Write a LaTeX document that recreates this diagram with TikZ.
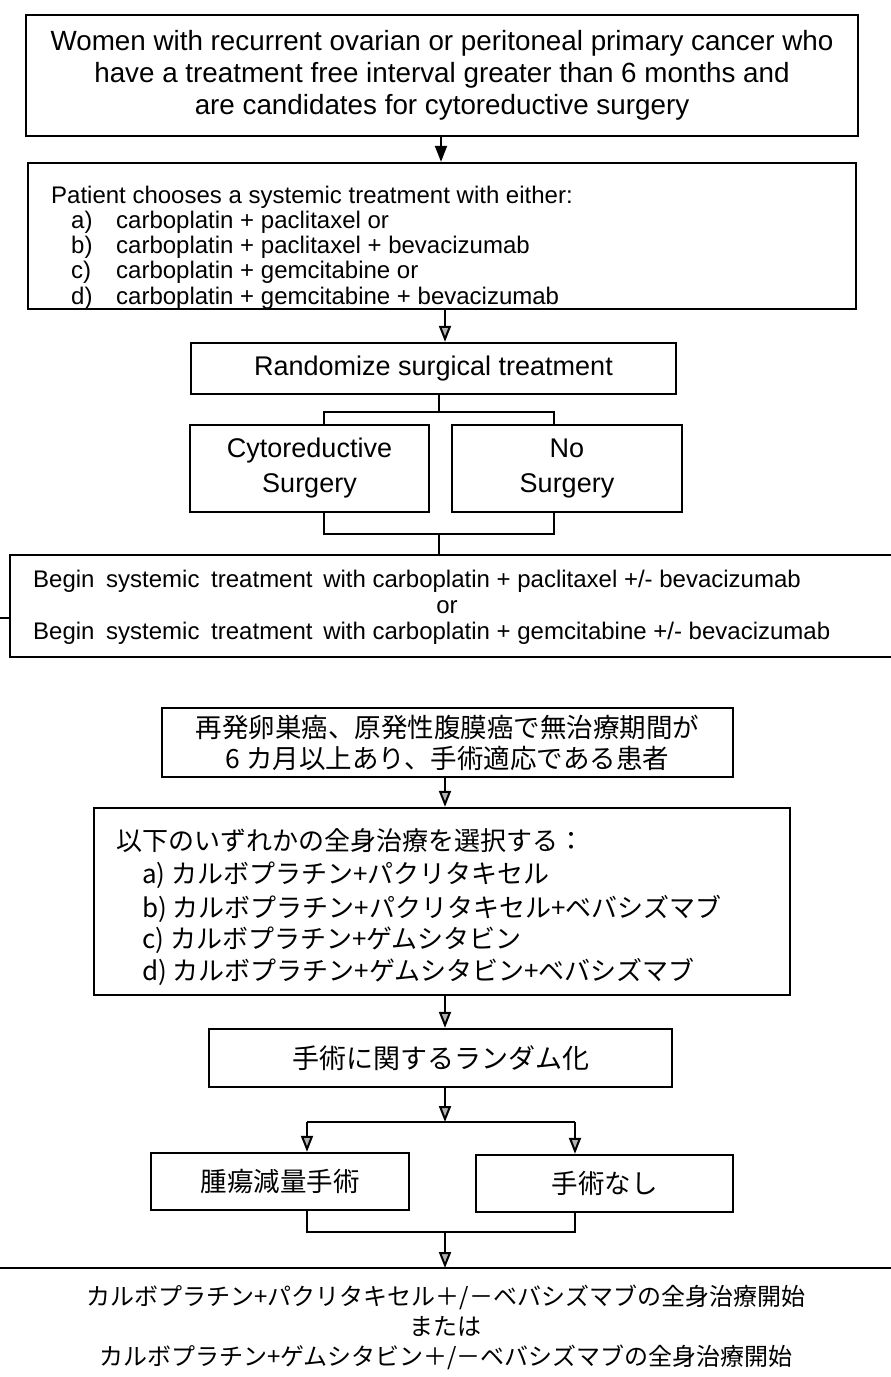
\documentclass[tikz,border=0pt]{standalone}
\usepackage{fontspec}
\setmainfont{Liberation Sans}
\newfontfamily\jp{Noto Sans CJK JP}
\usetikzlibrary{arrows.meta}
\begin{document}
\begin{tikzpicture}[x=1pt,y=-1pt,
  box/.style={draw=black, line width=2.4pt, inner sep=0pt, align=center},
  conn/.style={line width=2pt, draw=black},
  arr/.style={conn, -{Triangle[length=16pt,width=12pt,fill=gray!60]}},
  darr/.style={conn, -{Triangle[length=16pt,width=12pt]}},
  ttl/.style={font=\fontsize{27.8}{32}\selectfont},
  enm/.style={font=\fontsize{27}{35}\selectfont},
  ens/.style={font=\fontsize{24}{25}\selectfont, anchor=base west, inner sep=0pt},
  jpm/.style={font=\jp\fontsize{26.5}{31}\selectfont},
  jps/.style={font=\jp\fontsize{26}{32}\selectfont, anchor=base west, inner sep=0pt},
]
\useasboundingbox (0,0) rectangle (891,1377);
\fill[white] (0,0) rectangle (891,1377);

% ---------------- English part ----------------
\node[box, ttl, minimum width=832pt, minimum height=121pt] (b1) at (442,75.5)
  {Women with recurrent ovarian or peritoneal primary cancer who\\
   have a treatment free interval greater than 6 months and\\
   are candidates for cytoreductive surgery};

\node[ens] (b2t) at (51,203) {Patient chooses a systemic treatment with either:};
\node[ens] (b2a) at (71,228) {a)};
\node[ens] (b2at) at (116,228) {carboplatin + paclitaxel or};
\node[ens] (b2b) at (71,253) {b)};
\node[ens] (b2bt) at (116,253) {carboplatin + paclitaxel + bevacizumab};
\node[ens] (b2c) at (71,278) {c)};
\node[ens] (b2ct) at (116,278) {carboplatin + gemcitabine or};
\node[ens] (b2d) at (71,304) {d)};
\node[ens] (b2dt) at (116,304) {carboplatin + gemcitabine + bevacizumab};
\node[box, minimum width=828pt, minimum height=146pt] (b2) at (442,236) {};

\node[box, enm, minimum width=485pt, minimum height=51pt] (b3) at (433.5,368.5)
  {Randomize surgical treatment};

\node[box, enm, minimum width=239pt, minimum height=87pt] (b4) at (309.5,468.5)
  {Cytoreductive\\Surgery};
\node[box, enm, minimum width=230pt, minimum height=87pt] (b5) at (567,468.5)
  {No\\Surgery};

\node[box, minimum width=900pt, minimum height=102pt, anchor=north west] (b6) at (9,554) {};
\node[ens] (b6a) at (33,587)
  {Begin\hspace{5pt} systemic\hspace{5pt} treatment\hspace{4pt} with carboplatin + paclitaxel +/- bevacizumab};
\node[ens, anchor=base] (b6b) at (447,613) {or};
\node[ens] (b6c) at (33,639)
  {Begin\hspace{5pt} systemic\hspace{5pt} treatment\hspace{4pt} with carboplatin + gemcitabine +/- bevacizumab};
\draw[line width=1.2pt] (0,618) -- (b6.west |- 0,618);

\draw[darr] (b1.south -| 441,0) -- (b2.north -| 441,0);
\draw[arr] (b2.south -| 445,0) -- (b3.north -| 445,0);
\coordinate (s1) at (439,412);
\draw[conn] (b3.south -| s1) -- (s1);
\draw[conn] (b4.north -| 324,0) -- (324,412) -- (554,412) -- (b5.north -| 554,0);
\coordinate (m1) at (439,534);
\draw[conn] (b4.south -| 324,0) -- (324,534) -- (554,534) -- (b5.south -| 554,0);
\draw[conn] (m1) -- (b6.north -| m1);

% ---------------- Japanese part ----------------
\node[box, jpm, minimum width=571pt, minimum height=69pt] (j1) at (447.5,742.5)
  {再発卵巣癌、原発性腹膜癌で無治療期間が\\6 カ月以上あり、手術適応である患者};

\node[box, minimum width=696pt, minimum height=187pt] (j2) at (442,901.5) {};
\node[jps] (j2t) at (116,850) {以下のいずれかの全身治療を選択する：};
\node[jps] (j2a) at (142,883) {a) カルボプラチン+パクリタキセル};
\node[jps] (j2b) at (142,917) {b) カルボプラチン+パクリタキセル+ベバシズマブ};
\node[jps] (j2c) at (142,948) {c) カルボプラチン+ゲムシタビン};
\node[jps] (j2d) at (142,980) {d) カルボプラチン+ゲムシタビン+ベバシズマブ};

\node[box, jpm, font=\jp\fontsize{27}{31}\selectfont, minimum width=463pt, minimum height=58pt] (j3) at (440.5,1058)
  {手術に関するランダム化};

\node[box, jpm, minimum width=258pt, minimum height=57pt] (j4) at (280,1181.5)
  {腫瘍減量手術};
\node[box, jpm, minimum width=257pt, minimum height=57pt] (j5) at (604.5,1183.5)
  {手術なし};

\coordinate (js) at (445,1122);
\coordinate (jm) at (445,1232);
\coordinate (jl) at (0,1268);
\coordinate (jr) at (891,1268);

\draw[arr] (j1.south -| 445,0) -- (j2.north -| 445,0);
\draw[arr] (j2.south -| 445,0) -- (j3.north -| 445,0);
\draw[arr] (j3.south -| js) -- (js);
\draw[conn] (307,1122) -- (575,1122);
\draw[arr] (307,1122) -- (j4.north -| 307,0);
\draw[arr] (575,1122) -- (j5.north -| 575,0);
\draw[conn] (j4.south -| 307,0) -- (307,1232) -- (575,1232) -- (j5.south -| 575,0);
\draw[line width=2.4pt] (jl) -- (jr);
\draw[arr] (jm) -- (jm |- jl);

\node[font=\jp\fontsize{24}{30}\selectfont, align=center] (j6) at (446,1327)
  {カルボプラチン+パクリタキセル＋/－ベバシズマブの全身治療開始\\または\\カルボプラチン+ゲムシタビン＋/－ベバシズマブの全身治療開始};
\end{tikzpicture}
\end{document}
